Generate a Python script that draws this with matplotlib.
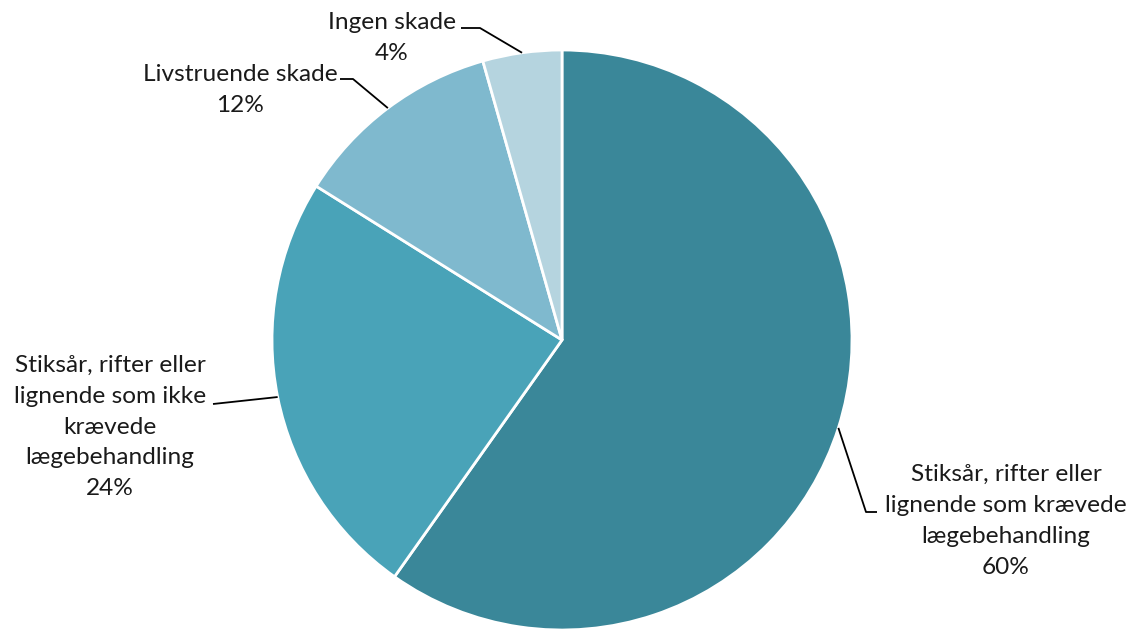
import numpy as np
import matplotlib
matplotlib.use("Agg")
import matplotlib.pyplot as plt

categories = [
    "Stiksår, rifter eller\nlignende som krævede\nlægebehandling",
    "Stiksår, rifter eller\nlignende som ikke\nkrævede\nlægebehandling",
    "Livstruende skade",
    "Ingen skade",
]
values = [59.8, 24.1, 11.7, 4.4]
colors = ["#3A8799", "#49A3B8", "#7FB9CE", "#B5D4DF"]

W, H = 1136, 631
fig = plt.figure(figsize=(W / 100, H / 100), dpi=100)
ax = fig.add_axes([0, 0, 1, 1])

cx, cy, R = 562, H - 340, 290
wedges, _ = ax.pie(values, colors=colors, startangle=90, counterclock=False,
                   center=(cx, cy), radius=R, frame=True,
                   wedgeprops=dict(edgecolor="white", linewidth=2))
ax.set_xlim(0, W)
ax.set_ylim(0, H)
ax.set_aspect("equal")
ax.axis("off")

plt.rcParams["font.family"] = ["Lato", "DejaVu Sans"]

# layout: text block center (pixels), leader path points (pixels) before the anchor on the rim
layout = [
    dict(tx=1006, ty=521, path=[(877, 512), (866, 512)]),
    dict(tx=110, ty=427, path=[(213, 404)]),
    dict(tx=240, ty=90, path=[(340, 79), (353, 79)]),
    dict(tx=392, ty=38, path=[(461, 28), (480, 28)]),
]

total = sum(values)
for w, cat, v, lay in zip(wedges, categories, values, layout):
    mid = np.deg2rad((w.theta1 + w.theta2) / 2)
    anchor = (cx + R * np.cos(mid), cy + R * np.sin(mid))
    pts = [(x, H - y) for x, y in lay["path"]] + [anchor]
    xs, ys = zip(*pts)
    ax.plot(xs, ys, color="black", lw=1.3, solid_capstyle="butt")
    ax.text(lay["tx"], H - lay["ty"], f"{cat}\n{round(v / total * 100)}%",
            ha="center", va="center", fontsize=17.6, color="#1a1a1a",
            linespacing=1.58)

fig.savefig("out.png", dpi=100)
